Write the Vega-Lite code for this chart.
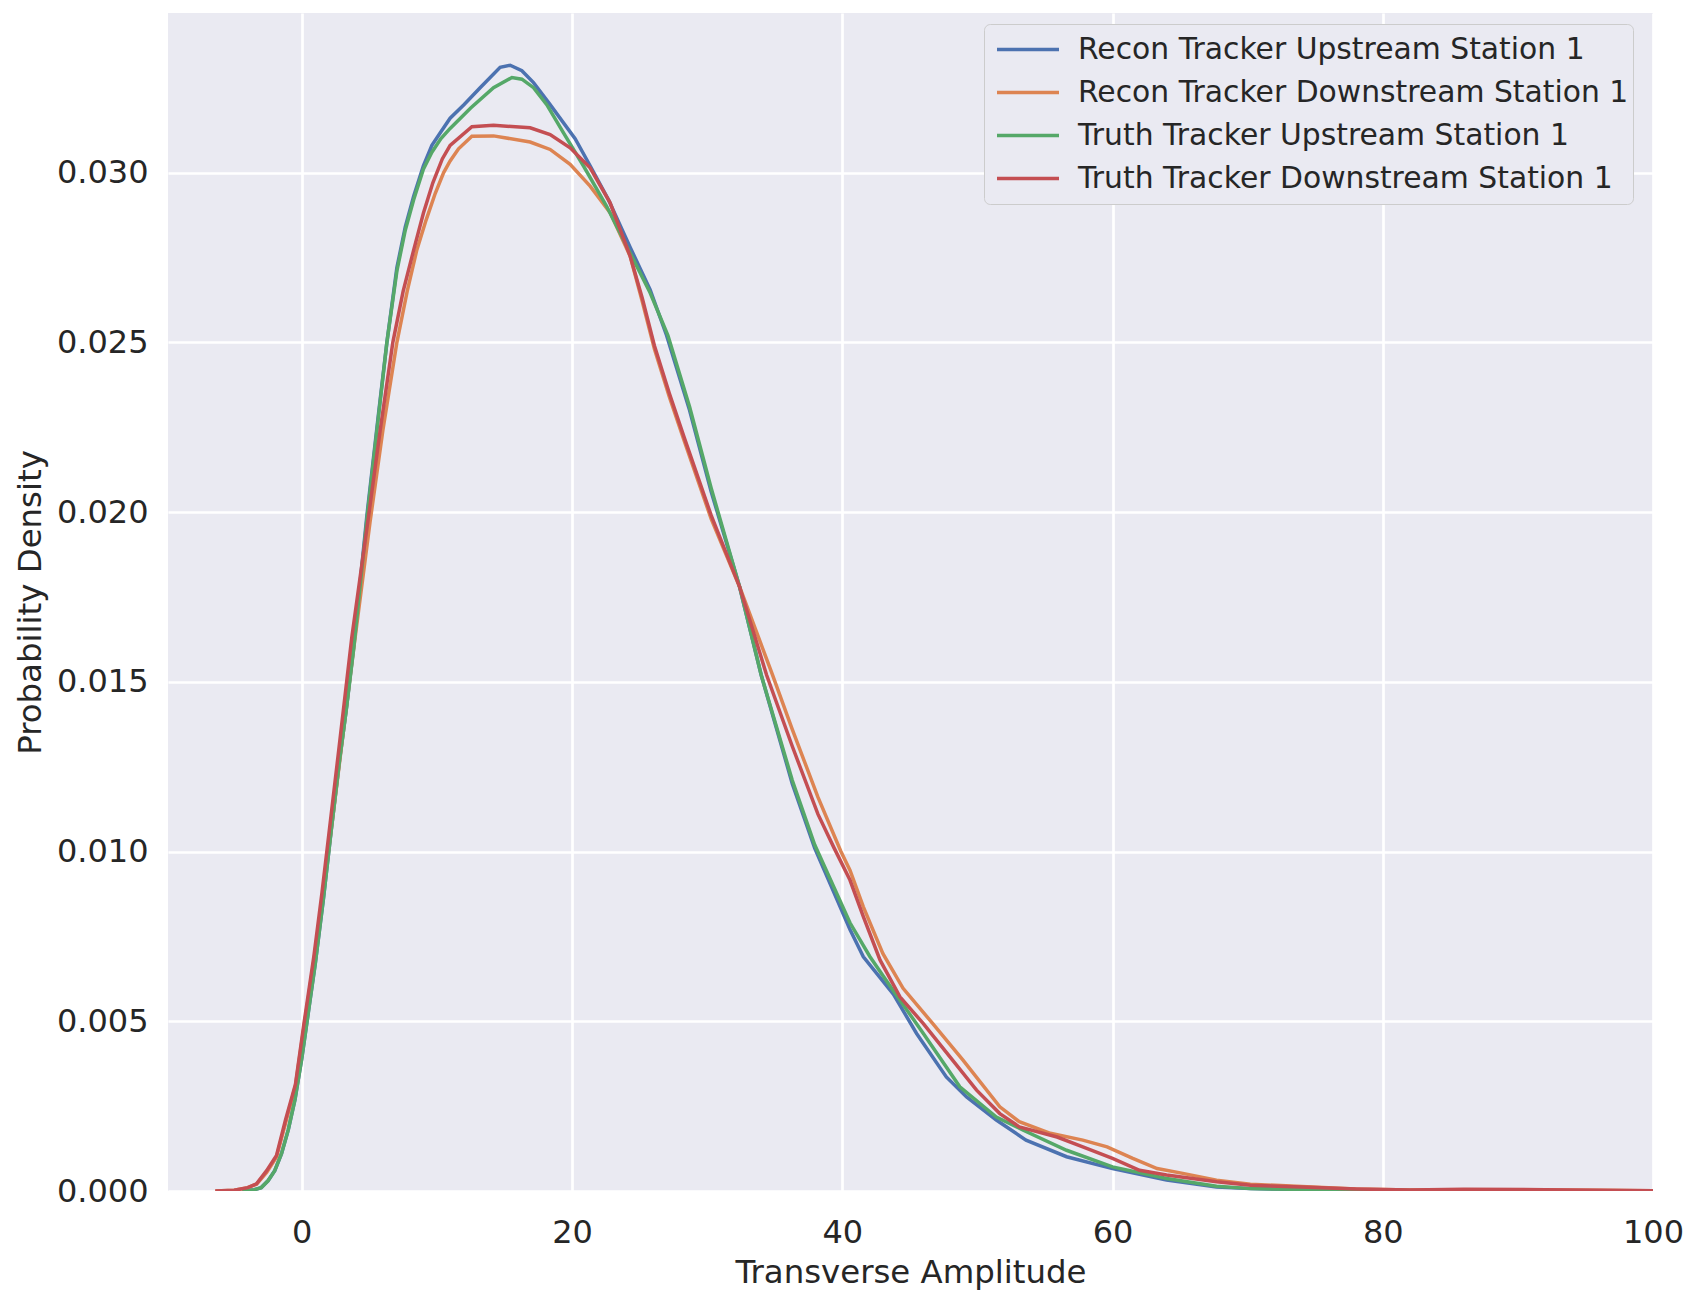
{
 "$schema": "https://vega.github.io/schema/vega-lite/v6.json",
 "width": 1485,
 "height": 1178,
 "autosize": {"type": "none"},
 "padding": {"left": 168, "top": 13, "right": 33, "bottom": 99},
 "background": "white",
 "config": {
  "font": "DejaVu Sans",
  "view": {"fill": "#EAEAF2", "stroke": null},
  "axis": {
   "grid": true, "gridColor": "#FFFFFF", "gridWidth": 2.7,
   "domain": false, "ticks": false,
   "labelFontSize": 32, "labelColor": "#262626",
   "titleFontSize": 32.4, "titleColor": "#262626", "titleFontWeight": "normal"
  }
 },
 "data": {"values": [
  {"s":"Recon Tracker Upstream Station 1","x":-4.4,"y":0},
  {"s":"Recon Tracker Upstream Station 1","x":-3.5,"y":0.00004},
  {"s":"Recon Tracker Upstream Station 1","x":-3.0,"y":0.0001},
  {"s":"Recon Tracker Upstream Station 1","x":-2.5,"y":0.0003},
  {"s":"Recon Tracker Upstream Station 1","x":-2.0,"y":0.0006},
  {"s":"Recon Tracker Upstream Station 1","x":-1.5,"y":0.0011},
  {"s":"Recon Tracker Upstream Station 1","x":-1.0,"y":0.0018},
  {"s":"Recon Tracker Upstream Station 1","x":-0.5,"y":0.0027},
  {"s":"Recon Tracker Upstream Station 1","x":0.0,"y":0.0039},
  {"s":"Recon Tracker Upstream Station 1","x":0.5,"y":0.0053},
  {"s":"Recon Tracker Upstream Station 1","x":1.0,"y":0.0067},
  {"s":"Recon Tracker Upstream Station 1","x":1.6,"y":0.0086},
  {"s":"Recon Tracker Upstream Station 1","x":2.2,"y":0.0107},
  {"s":"Recon Tracker Upstream Station 1","x":2.8,"y":0.0127},
  {"s":"Recon Tracker Upstream Station 1","x":3.3,"y":0.0142},
  {"s":"Recon Tracker Upstream Station 1","x":3.83,"y":0.0160},
  {"s":"Recon Tracker Upstream Station 1","x":4.82,"y":0.0199},
  {"s":"Recon Tracker Upstream Station 1","x":5.68,"y":0.0229},
  {"s":"Recon Tracker Upstream Station 1","x":6.3,"y":0.0250},
  {"s":"Recon Tracker Upstream Station 1","x":7.04,"y":0.0272},
  {"s":"Recon Tracker Upstream Station 1","x":7.66,"y":0.0284},
  {"s":"Recon Tracker Upstream Station 1","x":8.28,"y":0.0293},
  {"s":"Recon Tracker Upstream Station 1","x":9.0,"y":0.0302},
  {"s":"Recon Tracker Upstream Station 1","x":9.63,"y":0.0308},
  {"s":"Recon Tracker Upstream Station 1","x":10.3,"y":0.0312},
  {"s":"Recon Tracker Upstream Station 1","x":10.98,"y":0.0316},
  {"s":"Recon Tracker Upstream Station 1","x":12.0,"y":0.0320},
  {"s":"Recon Tracker Upstream Station 1","x":13.2,"y":0.0325},
  {"s":"Recon Tracker Upstream Station 1","x":14.68,"y":0.0331},
  {"s":"Recon Tracker Upstream Station 1","x":15.42,"y":0.03316},
  {"s":"Recon Tracker Upstream Station 1","x":16.29,"y":0.0330},
  {"s":"Recon Tracker Upstream Station 1","x":17.15,"y":0.03265},
  {"s":"Recon Tracker Upstream Station 1","x":18.38,"y":0.0320},
  {"s":"Recon Tracker Upstream Station 1","x":20.23,"y":0.0310},
  {"s":"Recon Tracker Upstream Station 1","x":21.34,"y":0.0302},
  {"s":"Recon Tracker Upstream Station 1","x":22.7,"y":0.0292},
  {"s":"Recon Tracker Upstream Station 1","x":24.3,"y":0.0278},
  {"s":"Recon Tracker Upstream Station 1","x":25.78,"y":0.02655},
  {"s":"Recon Tracker Upstream Station 1","x":27.0,"y":0.0252},
  {"s":"Recon Tracker Upstream Station 1","x":28.7,"y":0.0230},
  {"s":"Recon Tracker Upstream Station 1","x":30.3,"y":0.0206},
  {"s":"Recon Tracker Upstream Station 1","x":32.4,"y":0.0178},
  {"s":"Recon Tracker Upstream Station 1","x":34.0,"y":0.0152},
  {"s":"Recon Tracker Upstream Station 1","x":36.3,"y":0.0120},
  {"s":"Recon Tracker Upstream Station 1","x":37.96,"y":0.0101},
  {"s":"Recon Tracker Upstream Station 1","x":40.57,"y":0.0077},
  {"s":"Recon Tracker Upstream Station 1","x":41.56,"y":0.0069},
  {"s":"Recon Tracker Upstream Station 1","x":43.78,"y":0.0058},
  {"s":"Recon Tracker Upstream Station 1","x":45.5,"y":0.00464},
  {"s":"Recon Tracker Upstream Station 1","x":47.7,"y":0.00336},
  {"s":"Recon Tracker Upstream Station 1","x":49.2,"y":0.00277},
  {"s":"Recon Tracker Upstream Station 1","x":51.4,"y":0.00209},
  {"s":"Recon Tracker Upstream Station 1","x":53.6,"y":0.0015},
  {"s":"Recon Tracker Upstream Station 1","x":56.6,"y":0.00101},
  {"s":"Recon Tracker Upstream Station 1","x":60.0,"y":0.00066},
  {"s":"Recon Tracker Upstream Station 1","x":64.0,"y":0.00032},
  {"s":"Recon Tracker Upstream Station 1","x":67.7,"y":0.00012},
  {"s":"Recon Tracker Upstream Station 1","x":70.2,"y":0.00007},
  {"s":"Recon Tracker Upstream Station 1","x":75.0,"y":0.00004},
  {"s":"Recon Tracker Upstream Station 1","x":80.0,"y":0.00002},
  {"s":"Recon Tracker Upstream Station 1","x":83.0,"y":0},
  {"s":"Recon Tracker Downstream Station 1","x":-6.4,"y":0},
  {"s":"Recon Tracker Downstream Station 1","x":-5.0,"y":0.00002},
  {"s":"Recon Tracker Downstream Station 1","x":-4.0,"y":0.0001},
  {"s":"Recon Tracker Downstream Station 1","x":-3.35,"y":0.0002},
  {"s":"Recon Tracker Downstream Station 1","x":-2.6,"y":0.00055},
  {"s":"Recon Tracker Downstream Station 1","x":-1.87,"y":0.001},
  {"s":"Recon Tracker Downstream Station 1","x":-1.2,"y":0.002},
  {"s":"Recon Tracker Downstream Station 1","x":-0.47,"y":0.0031},
  {"s":"Recon Tracker Downstream Station 1","x":0.15,"y":0.0048},
  {"s":"Recon Tracker Downstream Station 1","x":0.9,"y":0.0068},
  {"s":"Recon Tracker Downstream Station 1","x":1.55,"y":0.0087},
  {"s":"Recon Tracker Downstream Station 1","x":2.2,"y":0.0107},
  {"s":"Recon Tracker Downstream Station 1","x":2.85,"y":0.0128},
  {"s":"Recon Tracker Downstream Station 1","x":3.5,"y":0.0149},
  {"s":"Recon Tracker Downstream Station 1","x":3.85,"y":0.0160},
  {"s":"Recon Tracker Downstream Station 1","x":5.05,"y":0.0197},
  {"s":"Recon Tracker Downstream Station 1","x":6.0,"y":0.0224},
  {"s":"Recon Tracker Downstream Station 1","x":7.04,"y":0.0250},
  {"s":"Recon Tracker Downstream Station 1","x":7.8,"y":0.0265},
  {"s":"Recon Tracker Downstream Station 1","x":8.52,"y":0.02773},
  {"s":"Recon Tracker Downstream Station 1","x":9.2,"y":0.0286},
  {"s":"Recon Tracker Downstream Station 1","x":9.88,"y":0.02939},
  {"s":"Recon Tracker Downstream Station 1","x":10.5,"y":0.0300},
  {"s":"Recon Tracker Downstream Station 1","x":10.98,"y":0.03034},
  {"s":"Recon Tracker Downstream Station 1","x":11.6,"y":0.0307},
  {"s":"Recon Tracker Downstream Station 1","x":12.59,"y":0.03107},
  {"s":"Recon Tracker Downstream Station 1","x":14.19,"y":0.03108},
  {"s":"Recon Tracker Downstream Station 1","x":16.9,"y":0.0309},
  {"s":"Recon Tracker Downstream Station 1","x":18.38,"y":0.03068},
  {"s":"Recon Tracker Downstream Station 1","x":19.86,"y":0.03024},
  {"s":"Recon Tracker Downstream Station 1","x":21.34,"y":0.0296},
  {"s":"Recon Tracker Downstream Station 1","x":22.82,"y":0.02882},
  {"s":"Recon Tracker Downstream Station 1","x":24.3,"y":0.02754},
  {"s":"Recon Tracker Downstream Station 1","x":25.2,"y":0.0262},
  {"s":"Recon Tracker Downstream Station 1","x":26.1,"y":0.0248},
  {"s":"Recon Tracker Downstream Station 1","x":27.2,"y":0.0234},
  {"s":"Recon Tracker Downstream Station 1","x":28.3,"y":0.0221},
  {"s":"Recon Tracker Downstream Station 1","x":30.3,"y":0.0198},
  {"s":"Recon Tracker Downstream Station 1","x":32.4,"y":0.0178},
  {"s":"Recon Tracker Downstream Station 1","x":34.75,"y":0.0153},
  {"s":"Recon Tracker Downstream Station 1","x":36.3,"y":0.0136},
  {"s":"Recon Tracker Downstream Station 1","x":38.2,"y":0.0116},
  {"s":"Recon Tracker Downstream Station 1","x":39.9,"y":0.0100},
  {"s":"Recon Tracker Downstream Station 1","x":40.57,"y":0.00945},
  {"s":"Recon Tracker Downstream Station 1","x":41.56,"y":0.00837},
  {"s":"Recon Tracker Downstream Station 1","x":43.0,"y":0.0070},
  {"s":"Recon Tracker Downstream Station 1","x":44.5,"y":0.00597},
  {"s":"Recon Tracker Downstream Station 1","x":46.7,"y":0.00493},
  {"s":"Recon Tracker Downstream Station 1","x":48.95,"y":0.00385},
  {"s":"Recon Tracker Downstream Station 1","x":51.66,"y":0.00248},
  {"s":"Recon Tracker Downstream Station 1","x":53.1,"y":0.00204},
  {"s":"Recon Tracker Downstream Station 1","x":55.4,"y":0.0017},
  {"s":"Recon Tracker Downstream Station 1","x":57.8,"y":0.0015},
  {"s":"Recon Tracker Downstream Station 1","x":59.6,"y":0.0013},
  {"s":"Recon Tracker Downstream Station 1","x":61.5,"y":0.00096},
  {"s":"Recon Tracker Downstream Station 1","x":63.3,"y":0.00066},
  {"s":"Recon Tracker Downstream Station 1","x":65.2,"y":0.00052},
  {"s":"Recon Tracker Downstream Station 1","x":67.7,"y":0.00032},
  {"s":"Recon Tracker Downstream Station 1","x":70.2,"y":0.0002},
  {"s":"Recon Tracker Downstream Station 1","x":74.0,"y":0.00013},
  {"s":"Recon Tracker Downstream Station 1","x":78.0,"y":0.00006},
  {"s":"Recon Tracker Downstream Station 1","x":82.0,"y":0.00003},
  {"s":"Recon Tracker Downstream Station 1","x":86.0,"y":0.00004},
  {"s":"Recon Tracker Downstream Station 1","x":92.0,"y":0.00003},
  {"s":"Recon Tracker Downstream Station 1","x":96.0,"y":0.00002},
  {"s":"Recon Tracker Downstream Station 1","x":100.0,"y":0.00001},
  {"s":"Truth Tracker Upstream Station 1","x":-4.4,"y":0},
  {"s":"Truth Tracker Upstream Station 1","x":-3.5,"y":0.00004},
  {"s":"Truth Tracker Upstream Station 1","x":-3.0,"y":0.0001},
  {"s":"Truth Tracker Upstream Station 1","x":-2.5,"y":0.0003},
  {"s":"Truth Tracker Upstream Station 1","x":-2.0,"y":0.0006},
  {"s":"Truth Tracker Upstream Station 1","x":-1.5,"y":0.0011},
  {"s":"Truth Tracker Upstream Station 1","x":-1.0,"y":0.0018},
  {"s":"Truth Tracker Upstream Station 1","x":-0.5,"y":0.0027},
  {"s":"Truth Tracker Upstream Station 1","x":0.0,"y":0.0039},
  {"s":"Truth Tracker Upstream Station 1","x":0.5,"y":0.0053},
  {"s":"Truth Tracker Upstream Station 1","x":1.0,"y":0.0067},
  {"s":"Truth Tracker Upstream Station 1","x":1.6,"y":0.0086},
  {"s":"Truth Tracker Upstream Station 1","x":2.2,"y":0.0107},
  {"s":"Truth Tracker Upstream Station 1","x":2.8,"y":0.0127},
  {"s":"Truth Tracker Upstream Station 1","x":3.3,"y":0.0142},
  {"s":"Truth Tracker Upstream Station 1","x":3.85,"y":0.0160},
  {"s":"Truth Tracker Upstream Station 1","x":4.85,"y":0.0199},
  {"s":"Truth Tracker Upstream Station 1","x":5.7,"y":0.0229},
  {"s":"Truth Tracker Upstream Station 1","x":6.3,"y":0.0250},
  {"s":"Truth Tracker Upstream Station 1","x":7.04,"y":0.0271},
  {"s":"Truth Tracker Upstream Station 1","x":7.66,"y":0.0283},
  {"s":"Truth Tracker Upstream Station 1","x":8.28,"y":0.0292},
  {"s":"Truth Tracker Upstream Station 1","x":9.0,"y":0.0301},
  {"s":"Truth Tracker Upstream Station 1","x":9.63,"y":0.0306},
  {"s":"Truth Tracker Upstream Station 1","x":10.3,"y":0.0310},
  {"s":"Truth Tracker Upstream Station 1","x":10.98,"y":0.0313},
  {"s":"Truth Tracker Upstream Station 1","x":12.5,"y":0.0319},
  {"s":"Truth Tracker Upstream Station 1","x":14.19,"y":0.0325},
  {"s":"Truth Tracker Upstream Station 1","x":15.55,"y":0.0328},
  {"s":"Truth Tracker Upstream Station 1","x":16.29,"y":0.03275},
  {"s":"Truth Tracker Upstream Station 1","x":17.15,"y":0.0325},
  {"s":"Truth Tracker Upstream Station 1","x":18.13,"y":0.0320},
  {"s":"Truth Tracker Upstream Station 1","x":19.37,"y":0.03117},
  {"s":"Truth Tracker Upstream Station 1","x":20.84,"y":0.0302},
  {"s":"Truth Tracker Upstream Station 1","x":22.57,"y":0.0290},
  {"s":"Truth Tracker Upstream Station 1","x":24.3,"y":0.02763},
  {"s":"Truth Tracker Upstream Station 1","x":25.78,"y":0.02646},
  {"s":"Truth Tracker Upstream Station 1","x":27.1,"y":0.0252},
  {"s":"Truth Tracker Upstream Station 1","x":28.7,"y":0.0231},
  {"s":"Truth Tracker Upstream Station 1","x":30.3,"y":0.0207},
  {"s":"Truth Tracker Upstream Station 1","x":32.4,"y":0.0178},
  {"s":"Truth Tracker Upstream Station 1","x":34.0,"y":0.0152},
  {"s":"Truth Tracker Upstream Station 1","x":36.3,"y":0.0121},
  {"s":"Truth Tracker Upstream Station 1","x":37.96,"y":0.0102},
  {"s":"Truth Tracker Upstream Station 1","x":40.57,"y":0.0079},
  {"s":"Truth Tracker Upstream Station 1","x":42.05,"y":0.0069},
  {"s":"Truth Tracker Upstream Station 1","x":43.78,"y":0.0059},
  {"s":"Truth Tracker Upstream Station 1","x":46.0,"y":0.00464},
  {"s":"Truth Tracker Upstream Station 1","x":48.7,"y":0.00307},
  {"s":"Truth Tracker Upstream Station 1","x":51.4,"y":0.00218},
  {"s":"Truth Tracker Upstream Station 1","x":53.4,"y":0.00179},
  {"s":"Truth Tracker Upstream Station 1","x":56.6,"y":0.0012},
  {"s":"Truth Tracker Upstream Station 1","x":60.0,"y":0.00071},
  {"s":"Truth Tracker Upstream Station 1","x":64.0,"y":0.00037},
  {"s":"Truth Tracker Upstream Station 1","x":67.7,"y":0.00014},
  {"s":"Truth Tracker Upstream Station 1","x":70.2,"y":0.00007},
  {"s":"Truth Tracker Upstream Station 1","x":75.0,"y":0.00004},
  {"s":"Truth Tracker Upstream Station 1","x":80.0,"y":0.00002},
  {"s":"Truth Tracker Upstream Station 1","x":84.0,"y":0},
  {"s":"Truth Tracker Downstream Station 1","x":-6.4,"y":0},
  {"s":"Truth Tracker Downstream Station 1","x":-5.0,"y":0.00002},
  {"s":"Truth Tracker Downstream Station 1","x":-4.0,"y":0.0001},
  {"s":"Truth Tracker Downstream Station 1","x":-3.35,"y":0.00021},
  {"s":"Truth Tracker Downstream Station 1","x":-2.6,"y":0.0006},
  {"s":"Truth Tracker Downstream Station 1","x":-1.87,"y":0.00105},
  {"s":"Truth Tracker Downstream Station 1","x":-1.2,"y":0.0021},
  {"s":"Truth Tracker Downstream Station 1","x":-0.47,"y":0.00314},
  {"s":"Truth Tracker Downstream Station 1","x":0.15,"y":0.0049},
  {"s":"Truth Tracker Downstream Station 1","x":0.89,"y":0.0069},
  {"s":"Truth Tracker Downstream Station 1","x":1.5,"y":0.0088},
  {"s":"Truth Tracker Downstream Station 1","x":2.12,"y":0.0109},
  {"s":"Truth Tracker Downstream Station 1","x":2.74,"y":0.0130},
  {"s":"Truth Tracker Downstream Station 1","x":3.35,"y":0.0151},
  {"s":"Truth Tracker Downstream Station 1","x":3.7,"y":0.0163},
  {"s":"Truth Tracker Downstream Station 1","x":4.95,"y":0.0199},
  {"s":"Truth Tracker Downstream Station 1","x":5.8,"y":0.0224},
  {"s":"Truth Tracker Downstream Station 1","x":6.74,"y":0.0250},
  {"s":"Truth Tracker Downstream Station 1","x":7.5,"y":0.0265},
  {"s":"Truth Tracker Downstream Station 1","x":8.27,"y":0.0277},
  {"s":"Truth Tracker Downstream Station 1","x":9.0,"y":0.0288},
  {"s":"Truth Tracker Downstream Station 1","x":9.7,"y":0.0297},
  {"s":"Truth Tracker Downstream Station 1","x":10.4,"y":0.0304},
  {"s":"Truth Tracker Downstream Station 1","x":10.98,"y":0.0308},
  {"s":"Truth Tracker Downstream Station 1","x":12.59,"y":0.03135},
  {"s":"Truth Tracker Downstream Station 1","x":14.19,"y":0.03139},
  {"s":"Truth Tracker Downstream Station 1","x":16.9,"y":0.03132},
  {"s":"Truth Tracker Downstream Station 1","x":18.38,"y":0.03112},
  {"s":"Truth Tracker Downstream Station 1","x":19.86,"y":0.03073},
  {"s":"Truth Tracker Downstream Station 1","x":21.34,"y":0.03014},
  {"s":"Truth Tracker Downstream Station 1","x":22.82,"y":0.02911},
  {"s":"Truth Tracker Downstream Station 1","x":24.3,"y":0.02754},
  {"s":"Truth Tracker Downstream Station 1","x":25.2,"y":0.0263},
  {"s":"Truth Tracker Downstream Station 1","x":26.1,"y":0.0249},
  {"s":"Truth Tracker Downstream Station 1","x":27.2,"y":0.0235},
  {"s":"Truth Tracker Downstream Station 1","x":28.3,"y":0.0222},
  {"s":"Truth Tracker Downstream Station 1","x":30.3,"y":0.0199},
  {"s":"Truth Tracker Downstream Station 1","x":32.4,"y":0.0178},
  {"s":"Truth Tracker Downstream Station 1","x":34.4,"y":0.0152},
  {"s":"Truth Tracker Downstream Station 1","x":36.3,"y":0.0131},
  {"s":"Truth Tracker Downstream Station 1","x":38.2,"y":0.0111},
  {"s":"Truth Tracker Downstream Station 1","x":39.4,"y":0.0101},
  {"s":"Truth Tracker Downstream Station 1","x":40.57,"y":0.00916},
  {"s":"Truth Tracker Downstream Station 1","x":41.56,"y":0.00808},
  {"s":"Truth Tracker Downstream Station 1","x":42.8,"y":0.0068},
  {"s":"Truth Tracker Downstream Station 1","x":44.27,"y":0.00572},
  {"s":"Truth Tracker Downstream Station 1","x":46.0,"y":0.00493},
  {"s":"Truth Tracker Downstream Station 1","x":47.97,"y":0.00395},
  {"s":"Truth Tracker Downstream Station 1","x":49.94,"y":0.00297},
  {"s":"Truth Tracker Downstream Station 1","x":51.66,"y":0.00228},
  {"s":"Truth Tracker Downstream Station 1","x":53.1,"y":0.00189},
  {"s":"Truth Tracker Downstream Station 1","x":55.9,"y":0.00159},
  {"s":"Truth Tracker Downstream Station 1","x":57.8,"y":0.0013},
  {"s":"Truth Tracker Downstream Station 1","x":60.0,"y":0.00096},
  {"s":"Truth Tracker Downstream Station 1","x":62.0,"y":0.00061},
  {"s":"Truth Tracker Downstream Station 1","x":64.0,"y":0.00047},
  {"s":"Truth Tracker Downstream Station 1","x":67.7,"y":0.00027},
  {"s":"Truth Tracker Downstream Station 1","x":70.2,"y":0.00017},
  {"s":"Truth Tracker Downstream Station 1","x":74.0,"y":0.00012},
  {"s":"Truth Tracker Downstream Station 1","x":78.0,"y":0.00006},
  {"s":"Truth Tracker Downstream Station 1","x":82.0,"y":0.00003},
  {"s":"Truth Tracker Downstream Station 1","x":86.0,"y":0.00005},
  {"s":"Truth Tracker Downstream Station 1","x":92.0,"y":0.00004},
  {"s":"Truth Tracker Downstream Station 1","x":96.0,"y":0.00002},
  {"s":"Truth Tracker Downstream Station 1","x":100.0,"y":0.00001}
 ]},
 "mark": {"type": "line", "strokeWidth": 3.5, "clip": true},
 "encoding": {
  "x": {
   "field": "x", "type": "quantitative",
   "scale": {"domain": [-9.9, 100], "nice": false, "zero": false},
   "axis": {
    "title": "Transverse Amplitude",
    "values": [0, 20, 40, 60, 80, 100],
    "labelFlush": false,
    "labelPadding": 26,
    "titleY": 81, "titleBaseline": "middle"
   }
  },
  "y": {
   "field": "y", "type": "quantitative",
   "scale": {"domain": [0, 0.0347], "nice": false},
   "axis": {
    "title": "Probability Density",
    "values": [0, 0.005, 0.01, 0.015, 0.02, 0.025, 0.03],
    "format": ".3f",
    "labelFlush": false,
    "labelPadding": 20,
    "titleX": -138, "titleY": 589, "titleBaseline": "middle", "titleAlign": "center", "titleAngle": -90
   }
  },
  "color": {
   "field": "s", "type": "nominal",
   "scale": {
    "domain": ["Recon Tracker Upstream Station 1", "Recon Tracker Downstream Station 1", "Truth Tracker Upstream Station 1", "Truth Tracker Downstream Station 1"],
    "range": ["#4C72B0", "#DD8452", "#55A868", "#C44E52"]
   },
   "legend": {
    "title": null,
    "orient": "none", "legendX": 816, "legendY": 11,
    "symbolType": "stroke", "symbolSize": 3844, "symbolStrokeWidth": 3.5,
    "clipHeight": 43, "rowPadding": 0,
    "labelFontSize": 29.8, "labelColor": "#262626", "labelOffset": 17, "labelLimit": 900,
    "padding": 4, "symbolOffset": 7,
    "fillColor": "#EAEAF2", "strokeColor": "#CCCCCC", "cornerRadius": 6
   }
  }
 }
}
